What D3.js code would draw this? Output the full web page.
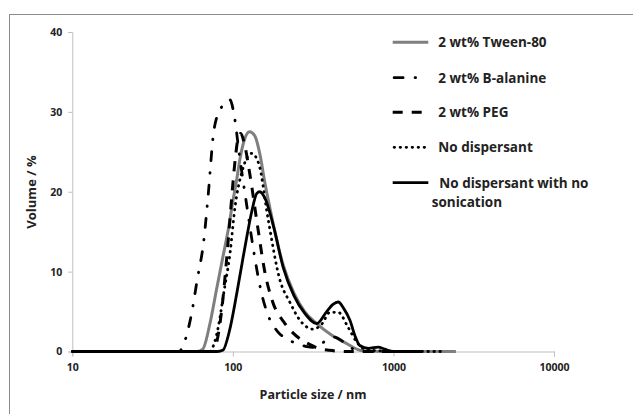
<!DOCTYPE html>
<html>
<head>
<meta charset="utf-8">
<script src="https://cdn.jsdelivr.net/npm/d3@7"></script>
<style>
  html, body { margin: 0; padding: 0; background: #fff; }
  svg { display: block; font-family: "Open Sans", "Liberation Sans", sans-serif; font-weight: bold; }
</style>
</head>
<body>
<svg id="chart" width="633" height="414"></svg>
<script>
// ---- data ----
const xTicks = [10, 100, 1000, 10000];
const yTicks = [0, 10, 20, 30, 40];

const seriesNames = ["2 wt% Tween-80", "2 wt% B-alanine", "2 wt% PEG", "No dispersant", "No dispersant with no sonication"];

const tweenSize = [12, 40, 60, 65, 72, 79, 86, 93.5, 100, 105.6, 110.5, 118, 127, 137, 147, 158, 170, 180, 206, 240, 280, 333, 403, 511, 617, 700, 1000, 1500, 2450];
const tweenVol  = [0, 0, 0, 0.3, 3.5, 7.7, 11.5, 15.2, 18.8, 21.5, 24, 26.5, 27.5, 27.0, 24.8, 21.2, 18, 15.6, 10.8, 7.3, 5.0, 3.5, 2.2, 1.0, 0.15, 0.02, 0, 0, 0];

const alanineSize = [10, 30, 46, 50, 55, 60, 66, 70, 76, 83, 96, 102, 110, 122, 135, 150, 166, 190, 220, 260, 290, 320, 345, 390, 430, 480, 540, 620, 700, 1000, 1500];
const alanineVol  = [0, 0, 0, 1.2, 4.5, 9, 14, 19.3, 27.5, 30.2, 31.5, 29.5, 24.5, 18.3, 12.5, 7.5, 4.5, 2.5, 1.5, 0.9, 0.6, 0.5, 0.8, 1.5, 1.8, 1.3, 0.5, 0.05, 0, 0, 0];

const pegSize = [10, 40, 76, 80, 85, 90, 95, 100, 104, 108, 112, 118, 128, 143, 158, 175, 211, 235, 270, 300, 340, 400, 500, 1000, 1500];
const pegVol  = [0, 0, 0, 1.5, 5, 10, 15.5, 21, 24.5, 26.8, 27.3, 26, 22, 15.5, 10, 6.5, 3.5, 2.4, 1.4, 0.9, 0.4, 0.15, 0, 0, 0];

const noDispSize = [10, 60, 72, 74, 81, 88, 96, 103, 115, 131, 145, 166, 196, 226, 262, 316, 360, 401, 453, 523, 590, 680, 800, 1000, 1500, 2000];
const noDispVol  = [0, 0, 0, 0.3, 3.0, 7.5, 12.3, 18.0, 22.8, 24.8, 23.5, 16.5, 9, 6.2, 3.9, 2.8, 3.5, 4.9, 4.9, 3.0, 1.2, 0.2, 0.1, 0, 0, 0];

const noSonSize = [10, 50, 80, 87, 95, 105.6, 114, 122, 131, 141, 147, 160, 180, 206, 240, 280, 333, 384, 420, 453, 490, 536, 580, 617, 700, 804, 880, 1000, 1500];
const noSonVol  = [0, 0, 0, 0.2, 2.5, 7.2, 11, 14.3, 17.5, 19.8, 20.0, 19.0, 15.5, 10.5, 7.0, 4.8, 3.5, 5.0, 5.9, 6.2, 5.4, 3.9, 1.8, 0.75, 0.4, 0.55, 0.3, 0, 0];

// ---- layout / styles ----
const svg = d3.select("#chart");
const x = d3.scaleLog().domain([10, 10000]).range([72.3, 554]);
const y = d3.scaleLinear().domain([0, 40]).range([351.5, 32]);

const styles = [
  { color: "#7f7f7f", width: 3, dash: null, cap: "butt" },
  { color: "#000", width: 2.8, dash: "9,12,0.5,12", cap: "round" },
  { color: "#000", width: 3, dash: "10,9", cap: "butt" },
  { color: "#000", width: 2.8, dash: "0.5,5.5", cap: "round" },
  { color: "#000", width: 2.8, dash: null, cap: "butt" }
];

const series = [
  { name: seriesNames[0], sizes: tweenSize, vols: tweenVol },
  { name: seriesNames[1], sizes: alanineSize, vols: alanineVol },
  { name: seriesNames[2], sizes: pegSize, vols: pegVol },
  { name: seriesNames[3], sizes: noDispSize, vols: noDispVol },
  { name: seriesNames[4], sizes: noSonSize, vols: noSonVol }
];

// outer frame (partially outside the picture)
svg.append("rect").attr("x", 9.5).attr("y", 14.5).attr("width", 700).attr("height", 700)
  .attr("fill", "none").attr("stroke", "#8c8c8c").attr("stroke-width", 1);

// axes
const axisColor = "#bfbfbf";
const gy = svg.append("g").attr("transform", `translate(${x.range()[0]},0)`)
  .call(d3.axisLeft(y).tickValues(yTicks).tickSize(4).tickPadding(6).tickFormat(d3.format("d")));
const gx = svg.append("g").attr("transform", `translate(0,${y(0)})`)
  .call(d3.axisBottom(x).tickValues(xTicks).tickSize(5).tickPadding(7).tickFormat(d3.format("d")));
[gx, gy].forEach(g => {
  g.selectAll("path.domain").attr("stroke", axisColor);
  g.selectAll(".tick line").attr("stroke", axisColor);
  g.selectAll("text").attr("fill", "#222").style("font-size", "10.5px")
    .style("font-family", "'Open Sans', sans-serif").style("font-weight", "bold");
});

// axis titles
svg.append("text").attr("x", 313).attr("y", 399).attr("text-anchor", "middle")
  .style("font-size", "12.5px").attr("fill", "#222").text("Particle size / nm");
svg.append("text").attr("transform", "translate(36,192) rotate(-90)").attr("text-anchor", "middle")
  .style("font-size", "13px").attr("fill", "#222").text("Volume / %");

// lines
const line = d3.line().x(d => x(d[0])).y(d => y(d[1])).curve(d3.curveMonotoneX);
const plot = svg.append("g");
series.forEach((s, i) => {
  const pts = s.sizes.map((d, j) => [d, s.vols[j]]);
  plot.append("path").datum(pts).attr("d", line)
    .attr("fill", "none").attr("stroke", styles[i].color).attr("stroke-width", styles[i].width)
    .attr("stroke-dasharray", styles[i].dash).attr("stroke-linecap", styles[i].cap)
    .attr("stroke-linejoin", "round");
});

// legend
const legY = [42.3, 77.7, 112.3, 147.3, 182.7];
const leg = svg.append("g");
series.forEach((s, i) => {
  const st = styles[i];
  const off = st.cap === "round" ? 1.4 : 0;
  leg.append("line").attr("x1", 392.7 + off).attr("x2", 428.3 - off)
    .attr("y1", legY[i]).attr("y2", legY[i])
    .attr("stroke", st.color).attr("stroke-width", st.width)
    .attr("stroke-dasharray", st.dash).attr("stroke-linecap", st.cap);
});
const legText = [
  { t: seriesNames[0], x: 438.3, y: legY[0] },
  { t: seriesNames[1], x: 438.3, y: legY[1] },
  { t: seriesNames[2], x: 438.3, y: legY[2] },
  { t: seriesNames[3], x: 438.3, y: legY[3] },
  { t: "No dispersant with no", x: 439.3, y: legY[4] },
  { t: "sonication", x: 431.7, y: 201.7 }
];
legText.forEach(d => {
  leg.append("text").attr("x", d.x).attr("y", d.y + 5)
    .style("font-size", "13.5px").attr("fill", "#222").text(d.t);
});
</script>
</body>
</html>
